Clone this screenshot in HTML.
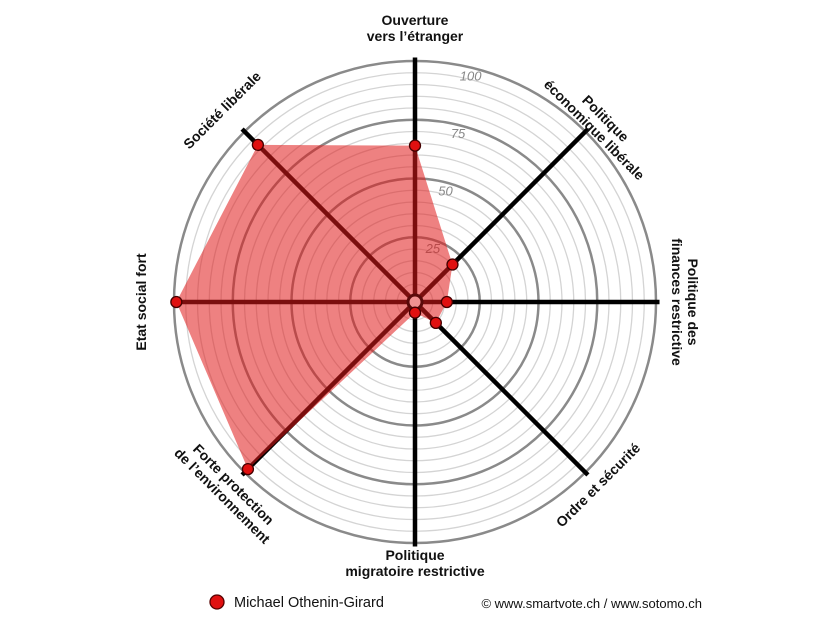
<!DOCTYPE html>
<html><head><meta charset="utf-8"><style>
body{margin:0;background:#fff}
svg{display:block;font-family:"Liberation Sans",Arial,sans-serif}
.lab{font-size:14px;font-weight:bold;fill:#111}
</style></head><body>
<svg id="chart" width="833" height="625" viewBox="0 0 833 625">
<g id="rings"></g>
<g id="axes"></g>
<g id="series"></g>
<g id="labels"></g>
<g>
<circle cx="217" cy="602" r="7" fill="#e01010" stroke="#500" stroke-width="1.3"/>
<text x="234" y="607" font-size="14.5" fill="#111">Michael Othenin-Girard</text>
</g>
<text x="702" y="608" font-size="13" fill="#111" text-anchor="end">© www.smartvote.ch / www.sotomo.ch</text>
</svg>
<script>
const categories=["Ouverture|vers l’étranger","Politique|économique libérale","Politique des|finances restrictive","Ordre et sécurité","Politique|migratoire restrictive","Forte protection|de l’environnement","Etat social fort","Société libérale"];
const values=[64,20,11,10,2,98,99,92];
const tickValues=[25,50,75,100];
const labelPos=[[415,28,0],[600,124,45],[685,302,90],[598,485,-45],[415,563,0],[228,490,45],[141,302,-90],[222,110,-45]];
const cx=415,cy=302,r0=6,k=2.35;
const NS="http://www.w3.org/2000/svg";
function R(v){return r0+v*k;}
function pt(i,v){const a=-Math.PI/2+i*Math.PI/4;return [cx+R(v)*Math.cos(a),cy+R(v)*Math.sin(a)];}
function mk(t,at,p){const e=document.createElementNS(NS,t);for(const q in at)e.setAttribute(q,at[q]);p.appendChild(e);return e;}
const rings=document.getElementById('rings');
for(let v=5;v<=100;v+=5){
 const major=v%25===0;
 const c=mk('circle',{cx:cx,cy:cy,r:R(v),fill:'none',stroke:major?'#8a8a8a':'#d4d4d4','stroke-width':major?2.5:1.3},rings);
 
 
}
tickValues.forEach(v=>{
 const a=-Math.PI/2+Math.PI/8*0.55;
 const t=mk('text',{x:cx+R(v)*Math.cos(a)+4,y:cy+R(v)*Math.sin(a)+14,'font-size':13,fill:'#888','font-style':'italic','text-anchor':'middle',transform:''},rings);
 t.textContent=v;
 
 
});
const axes=document.getElementById('axes');
categories.forEach((c,i)=>{
 const p=pt(i,101.5);
 const l=mk('line',{x1:cx,y1:cy,x2:p[0],y2:p[1],stroke:'#000','stroke-width':4.5},axes);
 
 
});
const series=document.getElementById('series');
const poly=mk('polygon',{points:values.map((v,i)=>pt(i,v).join(',')).join(' '),fill:'rgba(224,25,25,0.55)',stroke:'none'},series);


const cc=mk('circle',{cx:cx,cy:cy,r:7,fill:'#f09090',stroke:'#5a0a0a','stroke-width':3},series);


values.forEach((v,i)=>{
 const p=pt(i,v);
 const d=mk('circle',{cx:p[0],cy:p[1],r:5.5,fill:'#e01010',stroke:'#400','stroke-width':1.3},series);
 
 
});
const labels=document.getElementById('labels');
categories.forEach((c,i)=>{
 const [x,y,rot]=labelPos[i];
 const lines=c.split('|');
 const g=mk('g',{transform:`translate(${x},${y}) rotate(${rot})`},labels);
 
 
 lines.forEach((s,j)=>{
  const t=mk('text',{x:0,y:(j-(lines.length-1)/2)*16+5,'text-anchor':'middle',class:'lab'},g);
  t.textContent=s;
 });
});
</script>
</body></html>
